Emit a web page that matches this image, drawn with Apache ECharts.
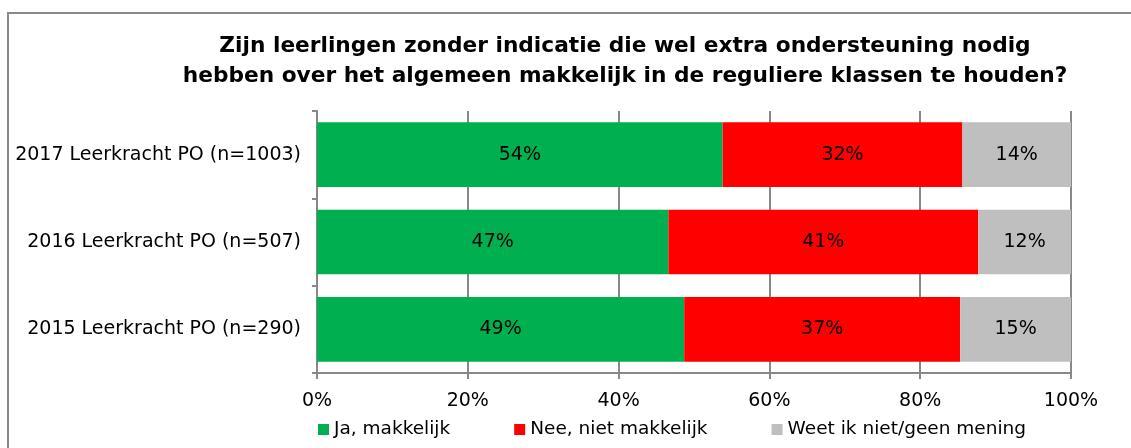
<!DOCTYPE html>
<html>
<head>
<meta charset="utf-8">
<script src="https://cdn.jsdelivr.net/npm/echarts@6/dist/echarts.min.js"></script>
<style>
    html, body { margin: 0; padding: 0; background: #fff; }
    #chart { width: 1131px; height: 448px; }
</style>
</head>
<body>
<div id="chart"></div>
<script>
    'use strict';

    // 数据
    var categories = ['2017 Leerkracht PO (n=1003)', '2016 Leerkracht PO (n=507)', '2015 Leerkracht PO (n=290)'];
    var seriesNames = ['Ja, makkelijk', 'Nee, niet makkelijk', 'Weet ik niet/geen mening'];
    var jaValues = [53.8, 46.6, 48.7];
    var neeValues = [31.8, 41.1, 36.6];
    var weetValues = [14.4, 12.3, 14.7];
    var tickLabels = ['0%', '20%', '40%', '60%', '80%', '100%'];
    var colors = ['#00B050', '#FF0000', '#BFBFBF'];

    var font = 'DejaVu Sans';

    var myChart = echarts.init(document.getElementById('chart'));

    function barSeries(name, data, color) {
        return {
            name: name,
            type: 'bar',
            stack: 'total',
            data: data,
            barWidth: '74%',
            itemStyle: { color: color },
            label: {
                show: true,
                position: 'inside',
                color: '#000',
                fontFamily: font,
                fontSize: 19,
                formatter: function (p) { return Math.round(p.value) + '%'; }
            }
        };
    }

    var option = {
        animation: false,
        title: {
            text: 'Zijn leerlingen zonder indicatie die wel extra ondersteuning nodig\nhebben over het algemeen makkelijk in de reguliere klassen te houden?',
            left: 620,
            top: 26,
            textAlign: 'center',
            textStyle: {
                fontFamily: font,
                fontWeight: 'bold',
                fontSize: 21.7,
                lineHeight: 30,
                color: '#000'
            }
        },
        graphic: [{
            type: 'rect',
            shape: { x: 8, y: 13, width: 1200, height: 500 },
            style: { fill: 'none', stroke: '#888', lineWidth: 2 },
            silent: true
        }],
        legend: {
            data: seriesNames,
            left: 313,
            top: 415,
            itemWidth: 11,
            itemHeight: 11,
            itemGap: 64,
            icon: 'rect',
            textStyle: { fontFamily: font, fontSize: 18.5, color: '#000' }
        },
        grid: {
            left: 317,
            right: 60,
            top: 111,
            bottom: 75,
            containLabel: false
        },
        xAxis: {
            type: 'value',
            min: 0,
            max: 100,
            interval: 20,
            axisLine: { show: true, lineStyle: { color: '#888', width: 2 } },
            axisTick: { show: true, length: 6, lineStyle: { color: '#888', width: 2 } },
            splitLine: { show: true, lineStyle: { color: '#888', width: 2 } },
            axisLabel: {
                fontFamily: font,
                fontSize: 19,
                color: '#000',
                margin: 19,
                formatter: function (v) { return tickLabels[v / 20]; }
            }
        },
        yAxis: {
            type: 'category',
            data: categories,
            inverse: true,
            axisLine: { show: true, lineStyle: { color: '#888', width: 2 } },
            axisTick: { show: true, length: 5, lineStyle: { color: '#888', width: 2 } },
            axisLabel: {
                fontFamily: font,
                fontSize: 19,
                color: '#000',
                margin: 16
            }
        },
        series: [
            barSeries(seriesNames[0], jaValues, colors[0]),
            barSeries(seriesNames[1], neeValues, colors[1]),
            barSeries(seriesNames[2], weetValues, colors[2])
        ]
    };

    myChart.setOption(option);
</script>
</body>
</html>
